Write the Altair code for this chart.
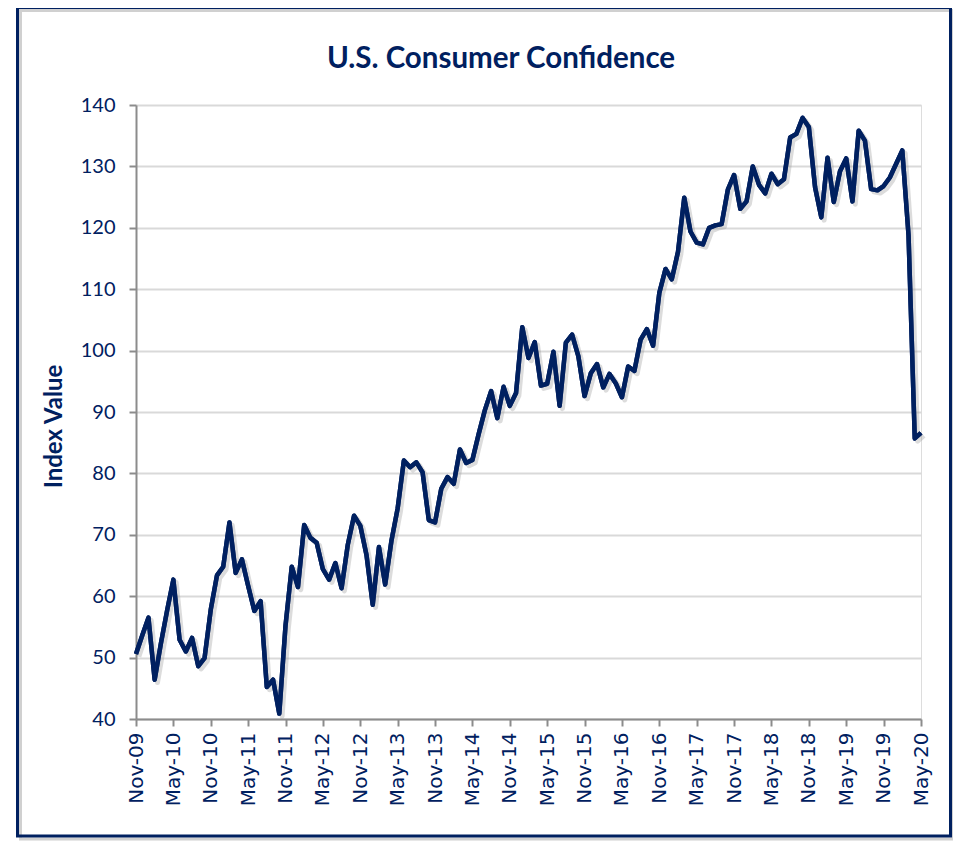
import altair as alt
import pandas as pd

# Monthly index values, Nov-2009 .. May-2020
values_2009 = [50.6, 53.6]
values_2010 = [56.5, 46.4, 52.3, 57.7, 62.7, 52.9, 51.0, 53.2, 48.6, 49.9, 57.8, 63.4]
values_2011 = [64.8, 72.0, 63.8, 66.0, 61.7, 57.6, 59.2, 45.2, 46.4, 40.9, 55.2, 64.8]
values_2012 = [61.5, 71.6, 69.5, 68.7, 64.4, 62.7, 65.4, 61.3, 68.4, 73.1, 71.5, 66.7]
values_2013 = [58.6, 68.0, 61.9, 69.0, 74.3, 82.1, 81.0, 81.8, 80.2, 72.4, 72.0, 77.5]
values_2014 = [79.4, 78.3, 83.9, 81.7, 82.2, 86.4, 90.3, 93.4, 89.0, 94.1, 91.0, 93.1]
values_2015 = [103.8, 98.8, 101.4, 94.3, 94.6, 99.8, 91.0, 101.3, 102.6, 99.1, 92.6, 96.3]
values_2016 = [97.8, 94.0, 96.2, 94.7, 92.4, 97.4, 96.7, 101.8, 103.5, 100.8, 109.4, 113.3]
values_2017 = [111.6, 116.1, 124.9, 119.4, 117.6, 117.3, 120.0, 120.4, 120.6, 126.2, 128.6, 123.1]
values_2018 = [124.3, 130.0, 127.0, 125.6, 128.8, 127.1, 127.9, 134.7, 135.3, 137.9, 136.4, 126.6]
values_2019 = [121.7, 131.4, 124.2, 129.2, 131.3, 124.3, 135.8, 134.2, 126.3, 126.1, 126.8, 128.2]
values_2020 = [130.4, 132.6, 118.8, 85.7, 86.6]

tick_labels = ["Nov-09", "May-10", "Nov-10", "May-11", "Nov-11", "May-12", "Nov-12",
               "May-13", "Nov-13", "May-14", "Nov-14", "May-15", "Nov-15", "May-16",
               "Nov-16", "May-17", "Nov-17", "May-18", "Nov-18", "May-19", "Nov-19",
               "May-20"]
y_ticks = [40, 50, 60, 70, 80, 90, 100, 110, 120, 130, 140]
title_text = "U.S. Consumer Confidence"

values = (values_2009 + values_2010 + values_2011 + values_2012 + values_2013 +
          values_2014 + values_2015 + values_2016 + values_2017 + values_2018 +
          values_2019 + values_2020)
months = pd.date_range("2009-11-01", periods=len(values), freq="MS")
df = pd.DataFrame({"idx": list(range(len(values))),
                   "month": [m.strftime("%b-%y") for m in months],
                   "value": values})

NAVY = "#002060"
W, H = 785, 614
N = len(values)

label_array = "[" + ",".join("'" + t + "'" for t in tick_labels) + "]"
x_scale = alt.Scale(domain=[0, N - 1], nice=False, zero=False)
y_scale = alt.Scale(domain=[40, 140], nice=False, zero=False)

x_axis = alt.Axis(values=list(range(0, N, 6)),
                  labelExpr=label_array + "[round(datum.value/6)]",
                  labelAngle=270, labelAlign="right", labelBaseline="middle",
                  labelFont="DejaVu Sans", labelFontSize=20, labelColor=NAVY,
                  labelPadding=6, tickSize=7, tickColor="#8c8c8c",
                  domainColor="#8c8c8c", domainWidth=2, tickWidth=2,
                  grid=False, title=None, labelOverlap=False,
                  labelBound=False, labelFlush=False)
y_axis = alt.Axis(values=y_ticks, labelFont="Lato", labelFontSize=20,
                  labelColor=NAVY, labelPadding=14, tickSize=7,
                  tickColor="#8c8c8c", domainColor="#8c8c8c", domainWidth=2,
                  tickWidth=2, gridColor="#d9d9d9", gridWidth=2,
                  title="Index Value", titleFont="Lato", titleFontSize=24,
                  titleFontWeight="bold", titleColor=NAVY, titleAngle=270,
                  titleX=-82, titleY=321, titleAlign="center",
                  titleBaseline="middle")

line = alt.Chart(df).mark_line(color=NAVY, strokeWidth=4.5, strokeJoin="round").encode(
    x=alt.X("idx:Q", scale=x_scale, axis=x_axis),
    y=alt.Y("value:Q", scale=y_scale, axis=y_axis),
)

# soft drop shadow under the line (same data, nudged right/down)
shadow = alt.Chart(df).transform_calculate(
    idx="datum.idx + 0.45", value="datum.value - 0.45"
).mark_line(color="#9a9a9a", strokeWidth=5, opacity=0.35, strokeJoin="round").encode(
    x=alt.X("idx:Q", scale=x_scale, axis=x_axis),
    y=alt.Y("value:Q", scale=y_scale, axis=y_axis),
)

one_row = pd.DataFrame({"t": [title_text]})
title = alt.Chart(one_row).mark_text(
    font="Lato", fontSize=29.5, fontWeight="bold", color=NAVY,
    align="center", baseline="alphabetic"
).encode(x=alt.value(365), y=alt.value(-37), text="t:N")

frame_shadow = alt.Chart(one_row).mark_rect(
    fill=None, stroke="#b0b0b0", strokeWidth=3, opacity=0.6
).encode(x=alt.value(-115.5), x2=alt.value(817.5), y=alt.value(-94.5), y2=alt.value(734))
frame = alt.Chart(one_row).mark_rect(
    fill=None, stroke=NAVY, strokeWidth=3
).encode(x=alt.value(-118.5), x2=alt.value(814.5), y=alt.value(-97.5), y2=alt.value(731))

chart = alt.layer(line, shadow, line, title, frame_shadow, frame).properties(
    width=W, height=H,
    padding={"left": 128, "top": 97, "right": 32, "bottom": 122},
    autosize=alt.AutoSizeParams(type="none"),
).configure_view(strokeWidth=0).configure(background="white")

chart.save("out.html", embed_options={"renderer": "svg", "actions": False})
